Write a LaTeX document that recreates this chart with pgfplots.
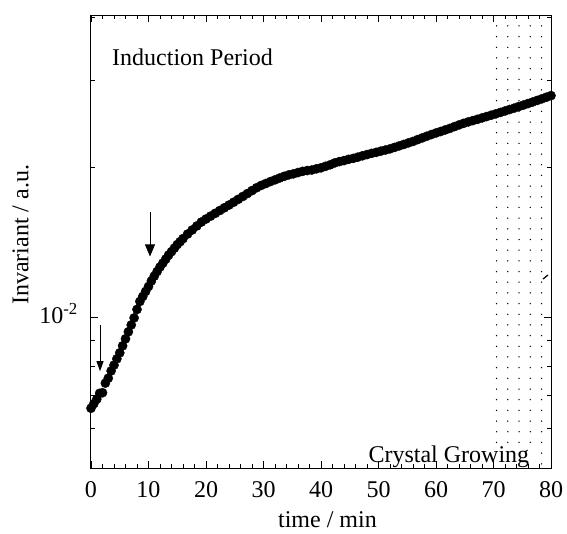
\documentclass[border=0pt]{standalone}
\usepackage{pgfplots}
\pgfplotsset{compat=1.18}
\usepackage{fontspec}
\setmainfont{Liberation Serif}
\usetikzlibrary{arrows.meta}

\begin{document}
\begin{tikzpicture}[font=\fontsize{24}{29}\selectfont]
\begin{axis}[
    scale only axis,
    width=460pt, height=453pt,
    xmin=0, xmax=80,
    ymode=log, ymin=5e-3, ymax=4.05e-2,
    xtick={0,10,...,80}, minor x tick num=4,
    ytick={0.01}, yticklabels={10\textsuperscript{-2}},
    minor ytick={5e-3,6e-3,7e-3,8e-3,9e-3,2e-2,3e-2,4e-2},
    major tick length=7pt, minor tick length=4pt,
    tick style={black, line width=0.9pt},
    axis line style={line width=1pt},
    /pgf/number format/assume math mode=true,
    tick label style={font=\fontsize{24}{29}\selectfont, inner sep=0pt},
    xticklabel style={anchor=base, yshift=-29pt},
    yticklabel style={anchor=base east, xshift=-13pt, yshift=-5.6pt},
    xlabel={time / min},
    ylabel={Invariant / a.u.},
    every axis x label/.style={at={(axis description cs:0.514,-0.1302)}, anchor=base, inner sep=0pt},
    every axis y label/.style={at={(axis description cs:-0.1359,0.515)}, rotate=90, anchor=base, inner sep=0pt},
    clip=false,
    axis on top,
]
\addplot[only marks, mark=*, mark size=4.6pt, black] coordinates {
(0.0,6.59e-3)(0.5,6.73e-3)(1.0,6.87e-3)(1.5,7.06e-3)(2.0,7.08e-3)(2.5,7.40e-3)
(3.0,7.57e-3)(3.5,7.83e-3)(4.0,8.04e-3)(4.5,8.28e-3)(5.0,8.51e-3)(5.5,8.79e-3)
(6.0,9.08e-3)(6.5,9.38e-3)(7.0,9.68e-3)(7.5,1.000e-2)(8.0,1.040e-2)(8.5,1.079e-2)
(9.0,1.104e-2)(9.5,1.130e-2)(10.0,1.156e-2)(10.5,1.186e-2)(11.0,1.213e-2)(11.5,1.239e-2)
(12.0,1.265e-2)(12.5,1.288e-2)(13.0,1.312e-2)(13.5,1.337e-2)(14.0,1.358e-2)(14.5,1.380e-2)
(15.0,1.403e-2)(15.5,1.422e-2)(16.0,1.442e-2)
(16.8,1.473e-2)(17.6,1.501e-2)(18.4,1.529e-2)(19.2,1.557e-2)(20.0,1.579e-2)(20.8,1.600e-2)
(21.6,1.621e-2)(22.4,1.642e-2)(23.2,1.663e-2)(24.0,1.684e-2)(24.8,1.706e-2)(25.6,1.729e-2)
(26.4,1.752e-2)(27.2,1.776e-2)(28.0,1.800e-2)(28.8,1.824e-2)(29.6,1.844e-2)(30.4,1.860e-2)
(31.2,1.877e-2)(32.0,1.892e-2)(32.8,1.908e-2)
(33.6,1.923e-2)(34.4,1.936e-2)(35.2,1.945e-2)(36.0,1.957e-2)(36.8,1.968e-2)(37.6,1.975e-2)
(38.4,1.980e-2)(39.2,1.991e-2)(40.0,2.000e-2)(40.8,2.014e-2)(41.6,2.028e-2)(42.4,2.046e-2)
(43.2,2.058e-2)(44.0,2.068e-2)(44.8,2.080e-2)(45.6,2.089e-2)(46.4,2.101e-2)(47.2,2.114e-2)
(48.0,2.126e-2)(48.8,2.138e-2)(49.6,2.148e-2)(50.4,2.160e-2)(51.2,2.171e-2)(52.0,2.183e-2)
(52.8,2.198e-2)(53.6,2.213e-2)(54.4,2.228e-2)(55.2,2.244e-2)(56.0,2.259e-2)(56.8,2.278e-2)
(57.6,2.296e-2)(58.4,2.314e-2)(59.2,2.332e-2)(60.0,2.349e-2)(60.8,2.365e-2)(61.6,2.382e-2)
(62.4,2.399e-2)(63.2,2.419e-2)(64.0,2.438e-2)(64.8,2.456e-2)(65.6,2.472e-2)(66.4,2.487e-2)
(67.2,2.502e-2)(68.0,2.518e-2)(68.8,2.534e-2)(69.6,2.550e-2)(70.4,2.566e-2)(71.2,2.583e-2)
(72.0,2.600e-2)(72.8,2.618e-2)(73.6,2.635e-2)(74.4,2.654e-2)(75.2,2.672e-2)(76.0,2.691e-2)
(76.8,2.710e-2)(77.6,2.730e-2)(78.4,2.750e-2)(79.2,2.771e-2)(80.0,2.791e-2)
};
% arrows marking the two events
\draw[line width=0.8pt, -{Triangle[length=10pt,width=7pt]}] (axis cs:1.57,9.70e-3) -- (axis cs:1.57,7.82e-3);
\draw[line width=0.7pt, -{Triangle[length=12pt,width=10pt]}] (axis cs:10.26,1.634e-2) -- (axis cs:10.26,1.328e-2);
\node[anchor=base] at (rel axis cs:0.2207,0.8896) {Induction Period};
\node[anchor=base] at (rel axis cs:0.778,0.0132) {Crystal Growing};
\coordinate (SW) at (rel axis cs:0,0);
\coordinate (NE) at (rel axis cs:1,1);
\end{axis}
\coordinate (TL) at (SW|-NE);
% dotted region, 70-80 min
\foreach \i in {0,...,4}
  \foreach \k in {0,...,39}
    \fill ([xshift=405.5pt+11.25pt*\i, yshift=-10.9pt-10.68pt*\k]TL) circle (0.75pt);
\foreach \k in {40,41}
  \fill ([xshift=450.5pt, yshift=-10.9pt-10.68pt*\k]TL) circle (0.75pt);
\draw[line width=1.2pt] ([xshift=452pt,yshift=-264pt]TL) -- ([xshift=457pt,yshift=-260pt]TL);
\path ([xshift=-91pt,yshift=-65pt]SW) rectangle ([xshift=16pt,yshift=15pt]NE);
\end{tikzpicture}
\end{document}
